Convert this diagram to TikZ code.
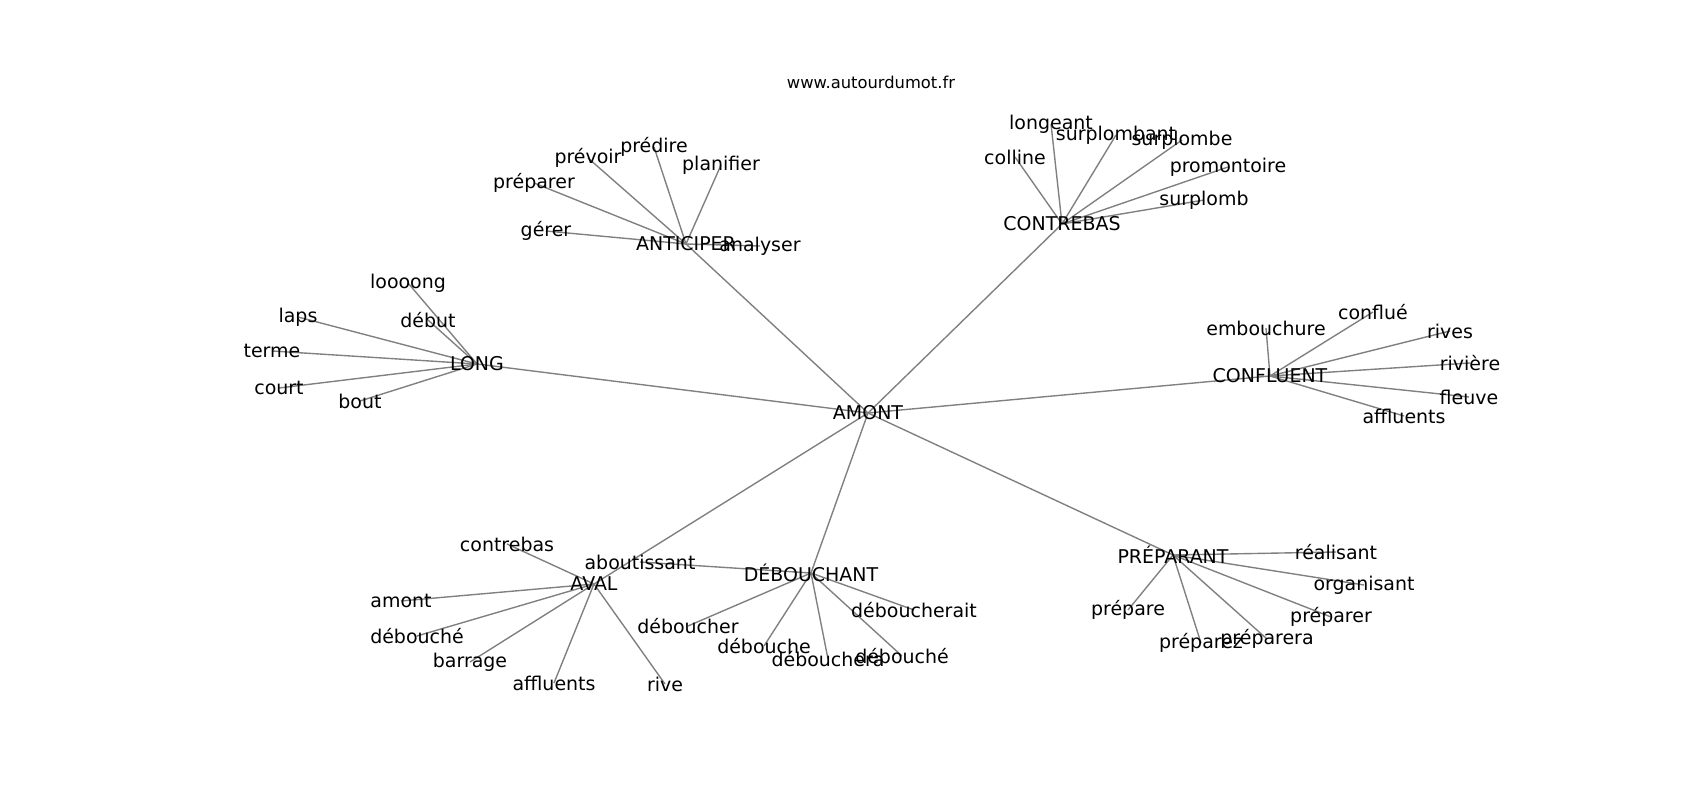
\documentclass[tikz,border=0pt]{standalone}
\usepackage{fontspec}
\setmainfont{DejaVu Sans}
\usetikzlibrary{backgrounds}
\begin{document}
\begin{tikzpicture}[x=0.01in,y=-0.01in,
  lbl/.style={inner sep=0pt,font=\fontsize{13.7}{16}\selectfont,text=black},
  ttl/.style={inner sep=0pt,font=\fontsize{11.8}{14}\selectfont,text=black},
  edge/.style={draw=gray,line width=1pt}]
\useasboundingbox (0,0) rectangle (1700,800);
\node[ttl] (title) at (871,82) {www.autourdumot.fr};
% hubs
\node[lbl] (amont) at (868,413) {AMONT};
\node[lbl] (long) at (477,364) {LONG};
\node[lbl] (anticiper) at (686,244) {ANTICIPER};
\node[lbl] (contrebas) at (1062,224) {CONTREBAS};
\node[lbl] (confluent) at (1270,376) {CONFLUENT};
\node[lbl] (preparant) at (1173,555) {PRÉPARANT};
\node[lbl] (debouchant) at (811,573) {DÉBOUCHANT};
\node[lbl] (aval) at (594,584) {AVAL};
% LONG
\node[lbl] (loooong) at (408,283) {loooong};
\node[lbl] (laps) at (298,317) {laps};
\node[lbl] (debut) at (428,320) {début};
\node[lbl] (terme) at (272,351) {terme};
\node[lbl] (court) at (279,388) {court};
\node[lbl] (bout) at (360,401) {bout};
% ANTICIPER
\node[lbl] (preparerA) at (534,183) {préparer};
\node[lbl] (prevoir) at (588,158) {prévoir};
\node[lbl] (predire) at (654,147) {prédire};
\node[lbl] (planifier) at (721,165) {planifier};
\node[lbl] (gerer) at (546,231) {gérer};
\node[lbl] (analyser) at (760,246) {analyser};
% CONTREBAS
\node[lbl] (longeant) at (1051,124) {longeant};
\node[lbl] (surplombant) at (1116,135) {surplombant};
\node[lbl] (surplombe) at (1182,140) {surplombe};
\node[lbl] (colline) at (1015,157) {colline};
\node[lbl] (promontoire) at (1228,167) {promontoire};
\node[lbl] (surplomb) at (1204,200) {surplomb};
% CONFLUENT
\node[lbl] (embouchure) at (1266,328) {embouchure};
\node[lbl] (conflue) at (1373,312) {conflué};
\node[lbl] (rives) at (1450,331) {rives};
\node[lbl] (riviere) at (1470,363) {rivière};
\node[lbl] (fleuve) at (1469,397) {fleuve};
\node[lbl] (affluentsC) at (1404,416) {affluents};
% PRÉPARANT
\node[lbl] (realisant) at (1336,552) {réalisant};
\node[lbl] (organisant) at (1364,585) {organisant};
\node[lbl] (preparerP) at (1331,617) {préparer};
\node[lbl] (prepare) at (1128,610) {prépare};
\node[lbl] (preparez) at (1201,643) {préparez};
\node[lbl] (preparera) at (1267,639) {préparera};
% DÉBOUCHANT
\node[lbl] (aboutissant) at (640,562) {aboutissant};
\node[lbl] (deboucher) at (688,626) {déboucher};
\node[lbl] (debouche) at (764,646) {débouche};
\node[lbl] (debouchera) at (828,659) {débouchera};
\node[lbl] (deboucheD) at (902,656) {débouché};
\node[lbl] (deboucherait) at (914,610) {déboucherait};
% AVAL
\node[lbl] (contrebasA) at (507,544) {contrebas};
\node[lbl] (amontA) at (401,601) {amont};
\node[lbl] (deboucheA) at (417,636) {débouché};
\node[lbl] (barrage) at (470,662) {barrage};
\node[lbl] (affluentsA) at (554,683) {affluents};
\node[lbl] (rive) at (665,684) {rive};
\begin{scope}[on background layer]
\fill[white] (0,0) rectangle (1700,800);
\foreach \h in {long,anticiper,contrebas,confluent,preparant,debouchant,aval}
  \draw[edge] (amont.center) -- (\h.center);
\foreach \c in {loooong,laps,debut,terme,court,bout}
  \draw[edge] (long.center) -- (\c.center);
\foreach \c in {preparerA,prevoir,predire,planifier,gerer,analyser}
  \draw[edge] (anticiper.center) -- (\c.center);
\foreach \c in {longeant,surplombant,surplombe,colline,promontoire,surplomb}
  \draw[edge] (contrebas.center) -- (\c.center);
\foreach \c in {embouchure,conflue,rives,riviere,fleuve,affluentsC}
  \draw[edge] (confluent.center) -- (\c.center);
\foreach \c in {realisant,organisant,preparerP,prepare,preparez,preparera}
  \draw[edge] (preparant.center) -- (\c.center);
\foreach \c in {aboutissant,deboucher,debouche,debouchera,deboucheD,deboucherait}
  \draw[edge] (debouchant.center) -- (\c.center);
\foreach \c in {contrebasA,amontA,deboucheA,barrage,affluentsA,rive}
  \draw[edge] (aval.center) -- (\c.center);
\end{scope}
\end{tikzpicture}
\end{document}
